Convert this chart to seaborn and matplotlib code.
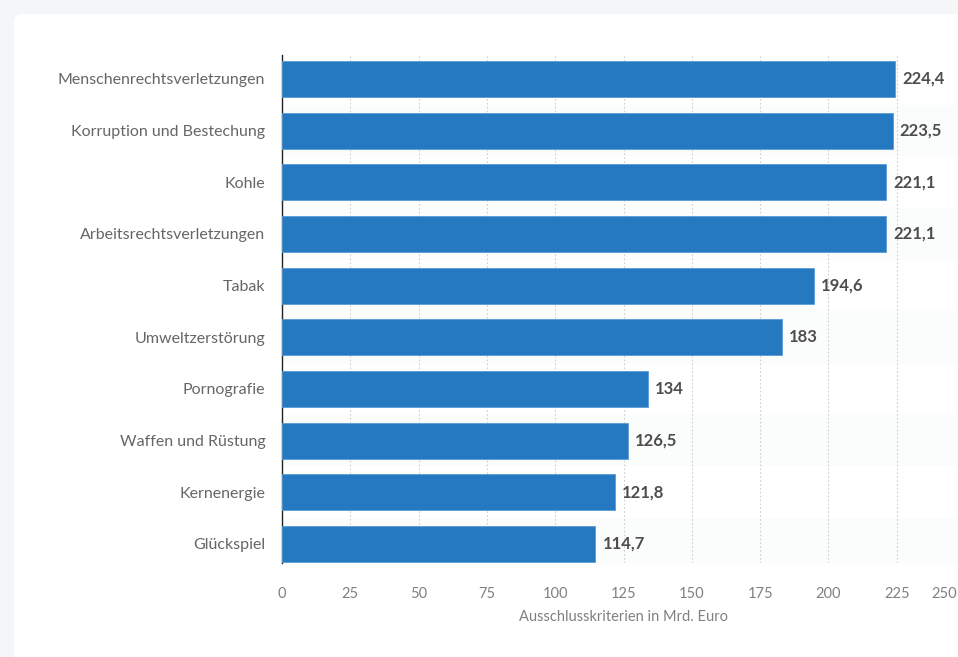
import matplotlib
matplotlib.use("Agg")
import matplotlib.pyplot as plt
from matplotlib.patches import FancyBboxPatch
from matplotlib.transforms import IdentityTransform, ScaledTranslation
import seaborn as sns

categories = [
    "Menschenrechtsverletzungen",
    "Korruption und Bestechung",
    "Kohle",
    "Arbeitsrechtsverletzungen",
    "Tabak",
    "Umweltzerstörung",
    "Pornografie",
    "Waffen und Rüstung",
    "Kernenergie",
    "Glückspiel",
]
values = [224.4, 223.5, 221.1, 221.1, 194.6, 183, 134, 126.5, 121.8, 114.7]
value_labels = ["224,4", "223,5", "221,1", "221,1", "194,6", "183", "134", "126,5", "121,8", "114,7"]
x_ticks = [0, 25, 50, 75, 100, 125, 150, 175, 200, 225, 250]
x_label = "Ausschlusskriterien in Mrd. Euro"

sns.set_style("white")
plt.rcParams["font.family"] = ["Lato", "DejaVu Sans"]

fig = plt.figure(figsize=(9.58, 6.57), dpi=100)
fig.patch.set_facecolor("#f4f6f8")
# white card behind the chart
card = FancyBboxPatch((14, -20), 1000, 663, boxstyle="round,pad=0,rounding_size=8",
                      transform=IdentityTransform(), facecolor="white", edgecolor="none",
                      zorder=0)
fig.add_artist(card)

ax = fig.add_axes([0.2944, 0.143, 0.713, 0.773])
ax.set_facecolor("none")

# faint alternating row bands
for i in range(1, len(categories), 2):
    ax.axhspan(i - 0.5, i + 0.5, color="#fbfcfc", zorder=0, lw=0)

sns.barplot(x=values, y=categories, orient="h", color="#2479c1", width=0.7,
            edgecolor="#5a9bd5", linewidth=0.6, saturation=1, ax=ax, zorder=3)

ax.bar_label(ax.containers[0], labels=value_labels, padding=5, fontsize=12,
             fontweight="bold", color="#4d4d4d")

ax.set_xlim(0, 250)
ax.set_ylim(9.37, -0.46)
ax.set_xticks(x_ticks)
ax.xaxis.grid(True, linestyle=(0, (1.5, 2)), color="#cfcfcf", linewidth=0.8, zorder=1)
ax.set_axisbelow(True)

for side in ["top", "right", "bottom"]:
    ax.spines[side].set_visible(False)
ax.spines["left"].set_color("#222222")
ax.spines["left"].set_linewidth(1.0)

ax.tick_params(axis="x", length=0, pad=17, labelsize=10.5, labelcolor="#808080")
ax.tick_params(axis="y", length=0, pad=12, labelsize=11.5, labelcolor="#666666")
ax.set_xlabel(x_label, fontsize=10.5, color="#808080", labelpad=7)
ax.set_ylabel("")

# keep the last tick label inside the picture
last = ax.get_xticklabels()[-1]
last.set_transform(last.get_transform() + ScaledTranslation(-0.21, 0, fig.dpi_scale_trans))

fig.savefig("out.png", dpi=100, facecolor=fig.get_facecolor())
